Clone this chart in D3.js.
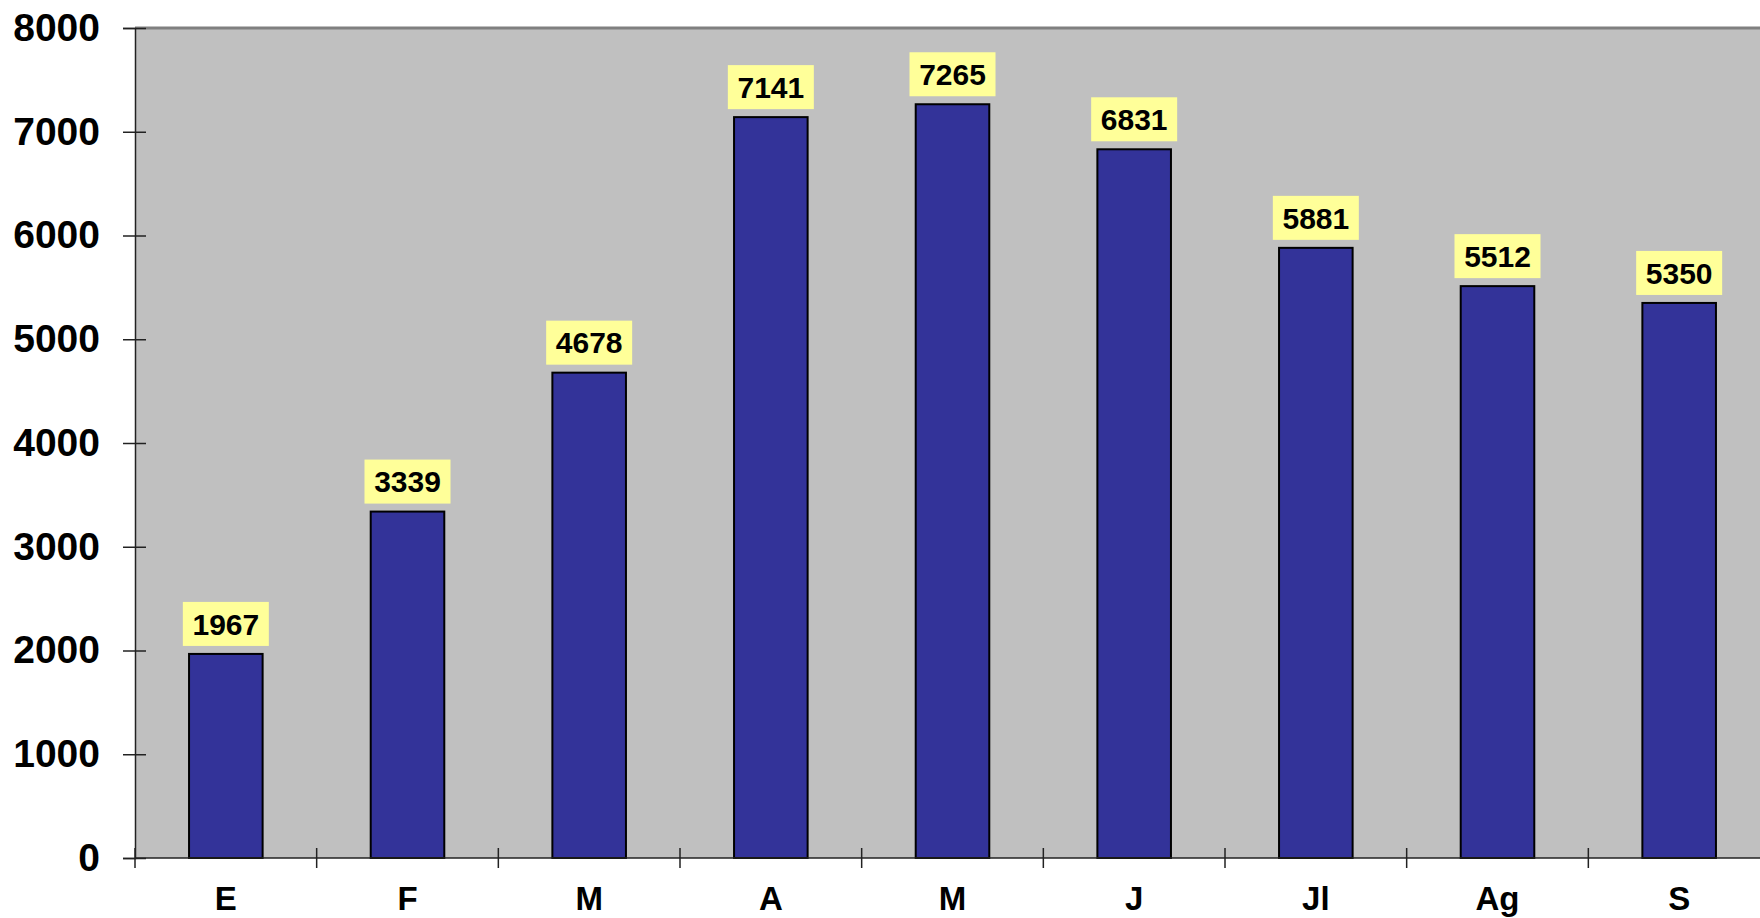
<!DOCTYPE html>
<html>
<head>
<meta charset="utf-8">
<script src="https://cdn.jsdelivr.net/npm/d3@7"></script>
<style>
  body { margin: 0; background: #fff; }
  text { font-family: "Liberation Sans", Arial, sans-serif; font-weight: bold; }
</style>
</head>
<body>
<div id="chart"></div>
<script>
// Month labels and values
let months = ["E", "F", "M", "A", "M", "J", "Jl", "Ag", "S"];
let totals = [1967, 3339, 4678, 7141, 7265, 6831, 5881, 5512, 5350];
let yTicks = [0, 1000, 2000, 3000, 4000, 5000, 6000, 7000, 8000];

let data = months.map((m, i) => ({ i: i, month: m, total: totals[i] }));

// Chart size - plot runs off the right edge like the original
let margin = { top: 28, left: 135 },
    width = 1635,
    height = 830;

let x = d3.scaleBand()
    .domain(data.map(d => d.i))
    .range([0, width])
    .paddingInner(0.595)
    .paddingOuter(0.2975);

let y = d3.scaleLinear()
    .domain([0, 8000])
    .range([height, 0]);

let svg = d3.select("#chart")
    .append("svg")
    .attr("width", 1760)
    .attr("height", 918);

let g = svg.append("g")
    .attr("transform", `translate(${margin.left}, ${margin.top})`);

// Grey plot area
g.append("rect")
    .attr("width", width)
    .attr("height", height)
    .attr("fill", "#c0c0c0");

g.append("line")
    .attr("x1", 0).attr("x2", width)
    .attr("y1", 0).attr("y2", 0)
    .attr("stroke", "#808080")
    .attr("stroke-width", 3);

// Bars
g.selectAll(".bar")
    .data(data)
    .enter().append("rect")
    .attr("class", "bar")
    .attr("x", d => x(d.i))
    .attr("y", d => y(d.total))
    .attr("width", x.bandwidth())
    .attr("height", d => height - y(d.total))
    .attr("fill", "#333399")
    .attr("stroke", "#000")
    .attr("stroke-width", 2);

// Value labels on yellow boxes
let lab = g.selectAll(".lab")
    .data(data)
    .enter().append("g")
    .attr("class", "lab")
    .attr("transform", d => `translate(${x(d.i) + x.bandwidth() / 2}, ${y(d.total) - 30})`);

lab.append("rect")
    .attr("x", -43)
    .attr("y", -22)
    .attr("width", 86)
    .attr("height", 44)
    .attr("fill", "#ffff99");

lab.append("text")
    .attr("text-anchor", "middle")
    .attr("dy", "0.36em")
    .attr("font-size", 30)
    .text(d => d.total);

// Y axis
let yaxis = g.append("g")
    .call(d3.axisLeft(y).tickValues(yTicks).tickFormat(d3.format("d"))
        .tickSize(12).tickPadding(23));
yaxis.select(".domain").attr("stroke", "#222").attr("stroke-width", 1.5);
yaxis.selectAll(".tick line")
    .attr("x2", 11)
    .attr("x1", -12)
    .attr("stroke", "#222")
    .attr("stroke-width", 1.5);
yaxis.selectAll(".tick text")
    .attr("font-size", 39)
    .attr("fill", "#000");

// X axis: ticks sit between the bands
let xaxis = g.append("g")
    .attr("transform", `translate(0, ${height})`);
xaxis.append("line")
    .attr("x1", 0).attr("x2", width)
    .attr("stroke", "#222").attr("stroke-width", 1.5);
xaxis.selectAll(".sep")
    .data(d3.range(months.length))
    .enter().append("line")
    .attr("x1", i => x(i) - x.step() * x.paddingOuter())
    .attr("x2", i => x(i) - x.step() * x.paddingOuter())
    .attr("y1", -10).attr("y2", 10)
    .attr("stroke", "#222").attr("stroke-width", 1.5);
xaxis.selectAll(".xl")
    .data(data)
    .enter().append("text")
    .attr("x", d => x(d.i) + x.bandwidth() / 2)
    .attr("y", 52)
    .attr("text-anchor", "middle")
    .attr("font-size", 33)
    .text(d => d.month);
</script>
</body>
</html>
